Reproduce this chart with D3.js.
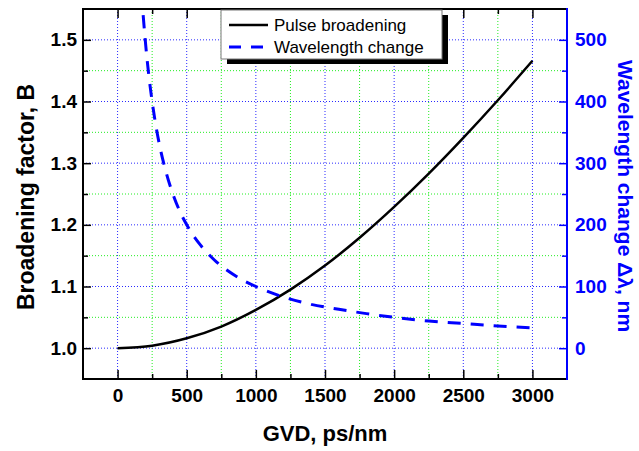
<!DOCTYPE html>
<html>
<head>
<meta charset="utf-8">
<script src="https://cdn.jsdelivr.net/npm/d3@7"></script>
<style>
  html, body { margin: 0; padding: 0; background: #fff; }
  svg { display: block; font-family: "Liberation Sans", Arial, sans-serif; }
</style>
</head>
<body>
<svg id="chart" width="639" height="451"></svg>
<script>
// GVD values (ps/nm) and the resulting broadening factor B
const gvdBroadening = [0, 250, 500, 750, 1000, 1250, 1500, 1750, 2000, 2250, 2500, 2750, 3000];
const broadening = [1.000, 1.004, 1.016, 1.035, 1.062, 1.095, 1.134, 1.179, 1.229, 1.283, 1.341, 1.402, 1.466];

// GVD values (ps/nm) and the wavelength change (nm)
const gvdWavelength = [185, 200, 225, 250, 300, 350, 400, 450, 500, 600, 700, 800, 900, 1000,
  1200, 1400, 1600, 1800, 2000, 2250, 2500, 2750, 3000];
const wavelengthChange = [540, 500, 444, 400, 333, 286, 250, 222, 200, 167, 143, 125, 111, 100,
  83, 71, 63, 56, 50, 44, 40, 36, 33];

// Axis ticks
const xMajorTicks = [0, 500, 1000, 1500, 2000, 2500, 3000];
const xMinorTicks = [250, 750, 1250, 1750, 2250, 2750];
const yLeftMajorTicks = [1.0, 1.1, 1.2, 1.3, 1.4, 1.5];
const yLeftMinorTicks = [1.05, 1.15, 1.25, 1.35, 1.45];
const yRightMajorTicks = [0, 100, 200, 300, 400, 500];
const yRightMinorTicks = [50, 150, 250, 350, 450];

const legendItems = ["Pulse broadening", "Wavelength change"];

const BLUE = "#0000ff";
const svg = d3.select("#chart");

const plot = { left: 83, right: 567, top: 9, bottom: 379 };

const x = d3.scaleLinear().domain([-250, 3250]).range([plot.left, plot.right]);
const yL = d3.scaleLinear().domain([0.95, 1.55]).range([plot.bottom, plot.top]);
const yR = d3.scaleLinear().domain([-50, 550]).range([plot.bottom, plot.top]);

// Grid: major lines blue dotted, minor lines green dotted
const grid = svg.append("g").attr("stroke-width", 1).attr("stroke-dasharray", "1,2").attr("fill", "none");
grid.selectAll("line.vmaj").data(xMajorTicks).join("line")
  .attr("x1", d => x(d)).attr("x2", d => x(d))
  .attr("y1", plot.top).attr("y2", plot.bottom).attr("stroke", "#2a2aff");
grid.selectAll("line.vmin").data(xMinorTicks).join("line")
  .attr("x1", d => x(d)).attr("x2", d => x(d))
  .attr("y1", plot.top).attr("y2", plot.bottom).attr("stroke", "#22ee22");
grid.selectAll("line.hmaj").data(yLeftMajorTicks).join("line")
  .attr("x1", plot.left).attr("x2", plot.right)
  .attr("y1", d => yL(d)).attr("y2", d => yL(d)).attr("stroke", "#2a2aff");
grid.selectAll("line.hmin").data(yLeftMinorTicks).join("line")
  .attr("x1", plot.left).attr("x2", plot.right)
  .attr("y1", d => yL(d)).attr("y2", d => yL(d)).attr("stroke", "#22ee22");

// Axes with inward ticks
function styleAxis(g, color) {
  g.select(".domain").remove();
  g.selectAll(".tick line").attr("stroke", color).attr("stroke-width", 1.5);
  g.selectAll(".tick text").attr("fill", color)
    .style("font-family", '"Liberation Sans", Arial, sans-serif')
    .style("font-weight", "bold").style("font-size", "19px");
}

// bottom
const gBottom = svg.append("g").attr("transform", `translate(0,${plot.bottom})`);
gBottom.call(d3.axisBottom(x).tickValues(xMajorTicks).tickSizeInner(-9).tickSizeOuter(0).tickPadding(10).tickFormat(d3.format("d")));
styleAxis(gBottom, "#000");
svg.append("g").attr("transform", `translate(0,${plot.bottom})`)
  .call(d3.axisBottom(x).tickValues(xMinorTicks).tickSizeInner(-5).tickSizeOuter(0).tickFormat(""))
  .call(g => styleAxis(g, "#000"));

// top
svg.append("g").attr("transform", `translate(0,${plot.top})`)
  .call(d3.axisTop(x).tickValues(xMajorTicks).tickSizeInner(-9).tickSizeOuter(0).tickFormat(""))
  .call(g => styleAxis(g, "#000"));
svg.append("g").attr("transform", `translate(0,${plot.top})`)
  .call(d3.axisTop(x).tickValues(xMinorTicks).tickSizeInner(-5).tickSizeOuter(0).tickFormat(""))
  .call(g => styleAxis(g, "#000"));

// left
const gLeft = svg.append("g").attr("transform", `translate(${plot.left},0)`);
gLeft.call(d3.axisLeft(yL).tickValues(yLeftMajorTicks).tickSizeInner(-8).tickSizeOuter(0).tickPadding(6).tickFormat(d3.format(".1f")));
styleAxis(gLeft, "#000");
svg.append("g").attr("transform", `translate(${plot.left},0)`)
  .call(d3.axisLeft(yL).tickValues(yLeftMinorTicks).tickSizeInner(-5).tickSizeOuter(0).tickFormat(""))
  .call(g => styleAxis(g, "#000"));

// right (blue)
const gRight = svg.append("g").attr("transform", `translate(${plot.right},0)`);
gRight.call(d3.axisRight(yR).tickValues(yRightMajorTicks).tickSizeInner(-8).tickSizeOuter(0).tickPadding(8).tickFormat(d3.format("d")));
styleAxis(gRight, BLUE);
svg.append("g").attr("transform", `translate(${plot.right},0)`)
  .call(d3.axisRight(yR).tickValues(yRightMinorTicks).tickSizeInner(-5).tickSizeOuter(0).tickFormat(""))
  .call(g => styleAxis(g, BLUE));

// Frame
const frame = svg.append("g").attr("stroke-width", 2).attr("stroke-linecap", "square");
frame.append("line").attr("x1", plot.left).attr("x2", plot.right).attr("y1", plot.top).attr("y2", plot.top).attr("stroke", "#000");
frame.append("line").attr("x1", plot.left).attr("x2", plot.right).attr("y1", plot.bottom).attr("y2", plot.bottom).attr("stroke", "#000");
frame.append("line").attr("x1", plot.left).attr("x2", plot.left).attr("y1", plot.top).attr("y2", plot.bottom).attr("stroke", "#000");
frame.append("line").attr("x1", plot.right).attr("x2", plot.right).attr("y1", plot.top).attr("y2", plot.bottom).attr("stroke", BLUE);

// Curves
const lineB = d3.line().x((d, i) => x(gvdBroadening[i])).y(d => yL(d)).curve(d3.curveMonotoneX);
svg.append("path").datum(broadening).attr("d", lineB)
  .attr("fill", "none").attr("stroke", "#000").attr("stroke-width", 2.5);

const lineW = d3.line().x((d, i) => x(gvdWavelength[i])).y(d => yR(d)).curve(d3.curveMonotoneX);
svg.append("path").datum(wavelengthChange).attr("d", lineW)
  .attr("fill", "none").attr("stroke", BLUE).attr("stroke-width", 3)
  .attr("stroke-dasharray", "13,10");

// Legend with drop shadow
const lg = svg.append("g").attr("transform", "translate(221,10)");
lg.append("rect").attr("x", 6).attr("y", 5).attr("width", 221).attr("height", 49).attr("fill", "#000");
lg.append("rect").attr("x", 0).attr("y", 0).attr("width", 221).attr("height", 49)
  .attr("fill", "#fff").attr("stroke", "#777").attr("stroke-width", 1);
lg.append("line").attr("x1", 8).attr("x2", 47).attr("y1", 15).attr("y2", 15)
  .attr("stroke", "#000").attr("stroke-width", 2.5);
lg.append("line").attr("x1", 8).attr("x2", 47).attr("y1", 37).attr("y2", 37)
  .attr("stroke", BLUE).attr("stroke-width", 3).attr("stroke-dasharray", "12,10");
lg.selectAll("text").data(legendItems).join("text")
  .attr("x", 53).attr("y", (d, i) => 15 + i * 22).attr("dy", "0.36em")
  .style("font-size", "17px").attr("fill", "#000").text(d => d);

// Axis titles
svg.append("text").attr("x", (plot.left + plot.right) / 2).attr("y", 441)
  .attr("text-anchor", "middle").style("font-weight", "bold").style("font-size", "22px")
  .text("GVD, ps/nm");
svg.append("text").attr("transform", "translate(34,197) rotate(-90)")
  .attr("text-anchor", "middle").style("font-weight", "bold").style("font-size", "23px")
  .text("Broadening factor, B");
svg.append("text").attr("transform", "translate(618,196) rotate(90)")
  .attr("text-anchor", "middle").style("font-weight", "bold").style("font-size", "21px")
  .attr("fill", BLUE).text("Wavelength change Δλ, nm");
</script>
</body>
</html>
